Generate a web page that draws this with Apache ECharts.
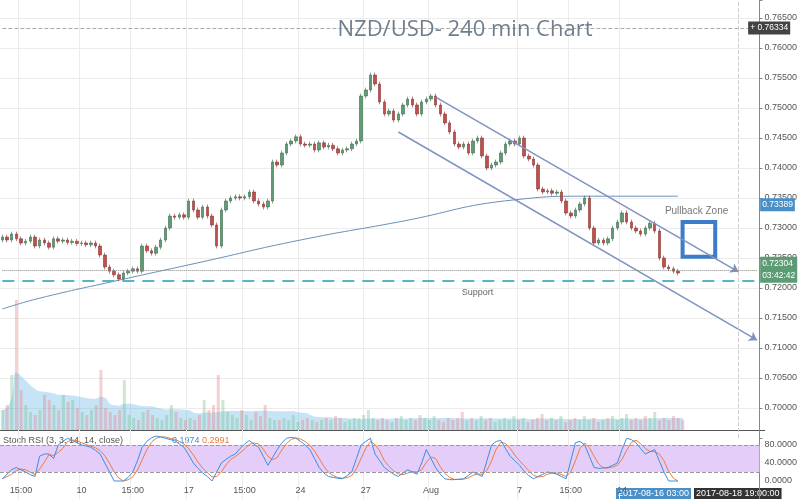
<!DOCTYPE html>
<html>
<head>
<meta charset="utf-8">
<script src="https://cdn.jsdelivr.net/npm/echarts@6/dist/echarts.min.js"></script>
<style>html,body{margin:0;padding:0;background:#fff}#chart{width:800px;height:499px}</style>
</head>
<body>
<div id="chart"></div>
<script>
// closes per 4h candle
var closes = [
  0.7285,0.7280,0.7290,0.7282,0.7275,0.7278,0.7285,0.7270,0.7280,0.7275,
  0.7268,0.7282,0.7278,0.7280,0.7276,0.7278,0.7274,0.7275,0.7272,0.7275,
  0.7270,0.7255,0.7235,0.7228,0.7222,0.7215,0.7225,0.7228,0.7232,0.7228,
  0.7270,0.7262,0.7258,0.7268,0.7280,0.7300,0.7320,0.7318,0.7322,0.7318,
  0.7345,0.7330,0.7318,0.7335,0.7320,0.7305,0.7270,0.7330,0.7345,0.7350,
  0.7352,0.7350,0.7352,0.7360,0.7345,0.7340,0.7335,0.7345,0.7410,0.7405,
  0.7425,0.7440,0.7445,0.7452,0.7440,0.7438,0.7440,0.7430,0.7442,0.7435,
  0.7438,0.7432,0.7425,0.7430,0.7432,0.7440,0.7445,0.7520,0.7530,0.7555,
  0.7540,0.7510,0.7490,0.7495,0.7480,0.7490,0.7505,0.7515,0.7505,0.7490,
  0.7510,0.7515,0.7520,0.7505,0.7490,0.7475,0.7460,0.7440,0.7435,0.7440,
  0.7425,0.7445,0.7450,0.7420,0.7400,0.7405,0.7410,0.7425,0.7440,0.7445,
  0.7440,0.7450,0.7420,0.7415,0.7405,0.7365,0.7360,0.7362,0.7358,0.7360,
  0.7345,0.7325,0.7320,0.7330,0.7340,0.7350,0.7300,0.7275,0.7280,0.7275,
  0.7282,0.7300,0.7310,0.7325,0.7310,0.7300,0.7295,0.7290,0.7300,0.7308,
  0.7295,0.7250,0.7235,0.7232,0.7228,0.7225
];
var volumes = [
  20,25,55,130,40,25,18,15,20,35, 30,25,20,35,28,30,22,18,15,20,
  25,60,22,18,15,20,50,15,12,10, 18,20,15,12,10,15,25,18,12,10,
  12,10,15,30,20,25,55,30,18,15, 12,20,15,10,18,14,25,12,10,10,
  12,10,15,8,10,12,10,8,10,12, 10,14,12,8,10,12,12,15,20,12,
  10,12,10,8,12,14,10,12,10,15, 12,10,14,10,8,12,10,12,18,10,
  12,10,14,10,12,8,10,12,10,14, 10,12,8,10,12,16,10,12,10,14,
  8,10,12,10,14,10,12,8,10,12, 14,10,12,16,10,12,10,14,12,18,
  10,12,10,14,12,10
];
var stochK = [
  5,15,25,30,25,20,14,10,55,60, 60,50,80,88,95,90,85,80,78,75,
  68,60,40,20,0,0,0,8,20,45, 75,88,96,100,98,95,92,90,82,75,
  58,40,28,18,10,0,20,40,48,55, 60,72,82,90,82,75,55,35,52,70,
  85,95,97,95,88,80,70,50,30,18, 10,8,6,5,12,20,50,80,88,95,
  60,45,30,22,15,10,18,25,20,15, 40,70,50,30,15,5,3,3,4,5,
  12,20,15,10,45,80,88,90,72,55, 45,35,22,12,5,10,15,20,18,15,
  10,5,45,85,88,80,55,30,28,29, 30,35,40,70,95,92,85,72,60,65,
  70,45,20,0,0,0
];
// 200 MA, read at a few candles
var maPoints = [[0,0.7165],[8,0.7183],[25,0.7213],[42,0.7242],[64,0.7280],[85,0.7310],[110,0.7347],[125,0.7353],[145,0.7353]];
var levels = {last: 0.72304, ma: 0.73389, high: 0.76334, support: 0.72117};
var tickIdx = [4,17,28,40,52,64,78,92,111,122,133];
var tickText = ['15:00','10','15:00','17','15:00','24','27','Aug','7','15:00','14'];
var nCats = 163;

var cats = [], candles = [], vols = [], ma = [], stochD = [], volMa = [];
for (var i = 0; i < nCats; i++) {
  var t = tickIdx.indexOf(i);
  cats.push(t >= 0 ? tickText[t] : 'c' + i);
}
for (var i = 0; i < closes.length; i++) {
  var o = i ? closes[i - 1] : closes[0] - 0.0005;
  var c = closes[i];
  candles.push([o, c, Math.min(o, c) - 0.0004, Math.max(o, c) + 0.0004]);
  var up = c >= o;
  vols.push({value: volumes[i], itemStyle: {color: up ? 'rgba(110,190,130,0.35)' : 'rgba(230,120,120,0.35)'}});
  var a = stochK.slice(Math.max(0, i - 2), i + 1);
  stochD.push(a.reduce(function (s, v) { return s + v; }, 0) / a.length);
  var b = volumes.slice(Math.max(0, i - 19), i + 1);
  volMa.push(b.reduce(function (s, v) { return s + v; }, 0) / b.length);
}
for (var i = 0; i < nCats; i++) ma.push(null);
maPoints.forEach(function (p) { ma[p[0]] = p[1]; });

var showTick = function (i) { return tickIdx.indexOf(i) >= 0; };
var gridCols = ['transparent'];
for (var i = 0; i < 14; i++) gridCols.push('#ececec');
gridCols.push('transparent');

function hline(v, style, label) {
  return [{coord: [0, v], symbol: 'none', lineStyle: style, label: label || {show: false}},
          {coord: [nCats - 1, v], symbol: 'none'}];
}
function boxLabel(text, bg, extra) {
  var l = {show: true, position: 'end', formatter: text, color: '#fff', backgroundColor: bg,
    padding: [2, 2], fontSize: 8.5, distance: 3};
  for (var k in extra) l[k] = extra[k];
  return l;
}

var chart = echarts.init(document.getElementById('chart'));
chart.setOption({
  animation: false,
  title: {text: 'NZD/USD- 240 min Chart', left: 460, top: 14, textAlign: 'center',
    textStyle: {color: '#6f7f8e', fontSize: 22, fontWeight: 'normal', fontFamily: 'Open Sans'}},
  grid: [
    {left: 0, right: 35, top: 0, height: 438},
    {left: 0, right: 35, top: 290, height: 140},
    {left: 0, right: 35, top: 427, height: 80}
  ],
  xAxis: [
    {type: 'category', data: cats, gridIndex: 0, axisLine: {show: false}, axisTick: {show: false}, axisLabel: {show: false},
      splitLine: {show: true, interval: showTick, lineStyle: {color: '#ececec'}}},
    {type: 'category', data: cats, gridIndex: 1, show: false},
    {type: 'category', data: cats, gridIndex: 2, offset: -15, axisLine: {show: false}, axisTick: {show: false},
      axisLabel: {interval: showTick, color: '#555', fontSize: 9, margin: 2},
      splitLine: {show: true, interval: showTick, lineStyle: {color: '#ececec'}}}
  ],
  yAxis: [
    {type: 'value', gridIndex: 0, position: 'right', min: 0.695, max: 0.768, interval: 0.005,
      axisLine: {show: true, lineStyle: {color: '#888'}}, axisTick: {show: true, length: 3},
      axisLabel: {color: '#555', fontSize: 9, margin: 5, formatter: function (v) {
        return (v < 0.698 || v > 0.766) ? '' : v.toFixed(5); }},
      splitLine: {lineStyle: {color: gridCols}}},
    {type: 'value', gridIndex: 1, min: 0, max: 140, show: false},
    {type: 'value', gridIndex: 2, position: 'right', min: -40, max: 120, interval: 40,
      axisLine: {show: true, lineStyle: {color: '#888'}}, axisTick: {show: false},
      axisLabel: {color: '#555', fontSize: 9, margin: 5, formatter: function (v) {
        return (v < 0 || v > 100) ? '' : v.toFixed(4); }},
      splitLine: {show: false}}
  ],
  series: [
    {type: 'bar', xAxisIndex: 1, yAxisIndex: 1, data: vols, barWidth: 3, z: 1},
    {type: 'line', xAxisIndex: 1, yAxisIndex: 1, data: volMa, symbol: 'none', smooth: true,
      lineStyle: {width: 0}, areaStyle: {color: 'rgba(80,170,230,0.45)'}, z: 1},
    {type: 'line', data: ma, connectNulls: true, smooth: true, symbol: 'none',
      lineStyle: {color: '#6b8fb8', width: 1}, z: 2},
    {type: 'candlestick', data: candles, barWidth: 3, z: 3,
      itemStyle: {color: '#5f9c74', color0: '#c0504d', borderColor: '#3e6b4f', borderColor0: '#8a3431', borderWidth: 0.6},
      markLine: {silent: true, symbol: ['none', 'arrow'], symbolSize: 8,
        lineStyle: {color: '#7f93c2', width: 1.5, type: 'solid'}, label: {show: false}, data: [
        [{coord: [93, 0.7518]}, {coord: [158, 0.7227]}],
        [{coord: [85, 0.7460]}, {coord: [162, 0.7113]}],
        hline(levels.high, {color: '#aaa', type: 'dashed', width: 1}, boxLabel('+ ' + levels.high.toFixed(5), '#444', {distance: -9})),
        hline(levels.ma, {color: 'transparent', width: 0}, boxLabel(levels.ma.toFixed(5), '#4a90c8')),
        hline(levels.last, {color: '#888', type: 'dotted', width: 1},
          boxLabel(levels.last.toFixed(5) + '\n03:42:42', '#5d9b74', {lineHeight: 12, padding: [1, 2]})),
        hline(levels.support, {color: '#5ab4c8', type: [12, 8], width: 2}),
        [{coord: [158, 0.695], symbol: 'none', lineStyle: {color: '#ccc', type: 'dashed', width: 1}}, {coord: [158, 0.768], symbol: 'none'}]
      ]},
      markArea: {silent: true, data: [[{coord: [146, 0.7310]}, {coord: [153, 0.7252]}]],
        itemStyle: {color: 'transparent', borderColor: '#3d7cc9', borderWidth: 4, borderRadius: 6}},
      markPoint: {symbol: 'circle', symbolSize: 0, data: [
        {coord: [102, 0.7193], label: {show: true, formatter: 'Support', color: '#666', fontSize: 9}},
        {coord: [149, 0.7328], label: {show: true, formatter: 'Pullback Zone', color: '#777', fontSize: 10}}
      ]}},
    {type: 'line', xAxisIndex: 2, yAxisIndex: 2, data: stochK, symbol: 'none', lineStyle: {color: '#3d8ee0', width: 1}, z: 3,
      markArea: {silent: true, data: [[{yAxis: 20}, {yAxis: 80}]], itemStyle: {color: '#e4cdf8'}},
      markLine: {silent: true, symbol: 'none', data: [{yAxis: 80}, {yAxis: 20}],
        lineStyle: {color: '#999', type: 'dashed', width: 1}, label: {show: false}}},
    {type: 'line', xAxisIndex: 2, yAxisIndex: 2, data: stochD, symbol: 'none', lineStyle: {color: '#ee7d3b', width: 1}, z: 2}
  ],
  graphic: [
    {type: 'rect', shape: {x: 0, y: 430, width: 765, height: 1}, style: {fill: '#555'}},
    {type: 'text', left: 3, top: 436, style: {text: 'Stoch RSI (3, 3, 14, 14, close)', fill: '#555', font: '9px sans-serif'}},
    {type: 'text', left: 172, top: 436, style: {text: '0.1974', fill: '#3d8ee0', font: '9px sans-serif'}},
    {type: 'text', left: 202, top: 436, style: {text: '0.2991', fill: '#ee7d3b', font: '9px sans-serif'}},
    {type: 'text', left: 616, top: 488, style: {text: '2017-08-16 03:00', fill: '#fff', font: '9px sans-serif',
      backgroundColor: '#4a90c8', padding: [1, 2]}},
    {type: 'text', left: 694, top: 488, style: {text: '2017-08-18 19:00:00', fill: '#fff', font: '9px sans-serif',
      backgroundColor: '#333', padding: [1, 2]}}
  ]
});
</script>
</body>
</html>
